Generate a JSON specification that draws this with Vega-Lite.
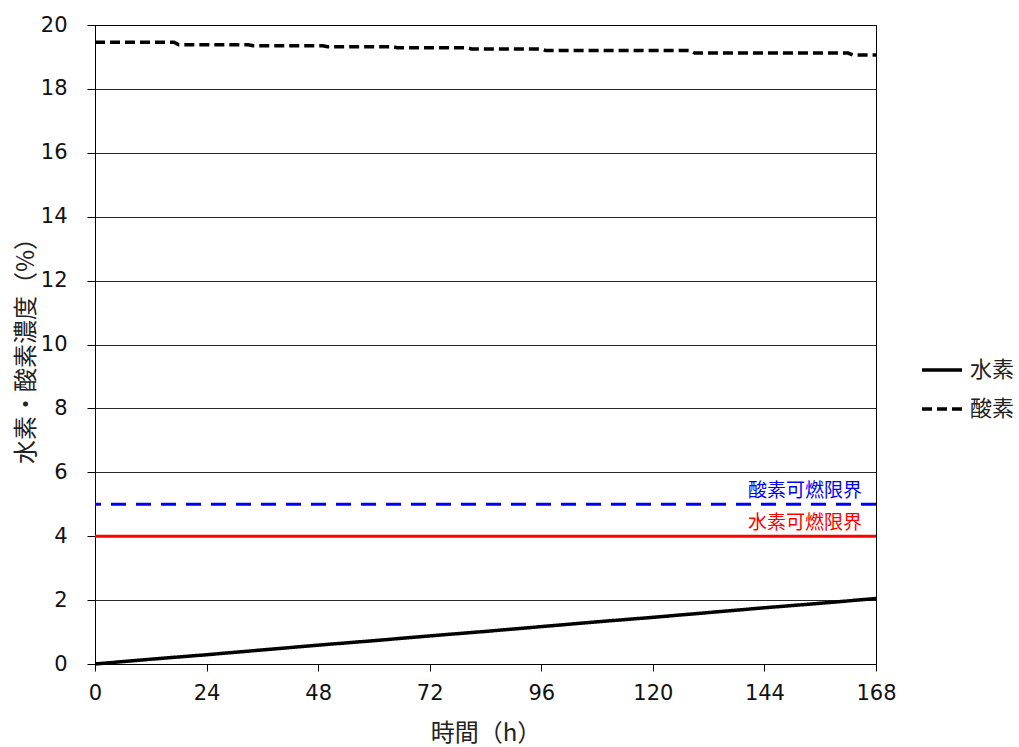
{
  "$schema": "https://vega.github.io/schema/vega-lite/v6.json",
  "width": 781,
  "height": 639,
  "autosize": {"type": "none"},
  "padding": {"left": 95, "top": 25, "right": 143, "bottom": 83},
  "background": "white",
  "config": {
    "view": {"stroke": "black", "strokeWidth": 1},
    "font": "DejaVu Sans"
  },
  "datasets": {
    "series": [
      {"h": 0, "v": 0, "s": "水素"},
      {"h": 12, "v": 0.15, "s": "水素"},
      {"h": 24, "v": 0.29, "s": "水素"},
      {"h": 36, "v": 0.44, "s": "水素"},
      {"h": 48, "v": 0.59, "s": "水素"},
      {"h": 60, "v": 0.73, "s": "水素"},
      {"h": 72, "v": 0.88, "s": "水素"},
      {"h": 84, "v": 1.02, "s": "水素"},
      {"h": 96, "v": 1.17, "s": "水素"},
      {"h": 108, "v": 1.32, "s": "水素"},
      {"h": 120, "v": 1.46, "s": "水素"},
      {"h": 132, "v": 1.61, "s": "水素"},
      {"h": 144, "v": 1.76, "s": "水素"},
      {"h": 156, "v": 1.9, "s": "水素"},
      {"h": 168, "v": 2.05, "s": "水素"},
      {"h": 0, "v": 19.46, "s": "酸素"},
      {"h": 17, "v": 19.46, "s": "酸素"},
      {"h": 18, "v": 19.38, "s": "酸素"},
      {"h": 33, "v": 19.38, "s": "酸素"},
      {"h": 34, "v": 19.35, "s": "酸素"},
      {"h": 49, "v": 19.35, "s": "酸素"},
      {"h": 50, "v": 19.32, "s": "酸素"},
      {"h": 64, "v": 19.32, "s": "酸素"},
      {"h": 65, "v": 19.29, "s": "酸素"},
      {"h": 80, "v": 19.29, "s": "酸素"},
      {"h": 81, "v": 19.25, "s": "酸素"},
      {"h": 96, "v": 19.25, "s": "酸素"},
      {"h": 97, "v": 19.2, "s": "酸素"},
      {"h": 128, "v": 19.2, "s": "酸素"},
      {"h": 129, "v": 19.12, "s": "酸素"},
      {"h": 162, "v": 19.12, "s": "酸素"},
      {"h": 163, "v": 19.06, "s": "酸素"},
      {"h": 168, "v": 19.06, "s": "酸素"}
    ],
    "limits": [
      {"name": "酸素可燃限界", "v": 5},
      {"name": "水素可燃限界", "v": 4}
    ]
  },
  "layer": [
    {
      "data": {"name": "series"},
      "mark": {"type": "line", "color": "black", "strokeWidth": 3.5},
      "encoding": {
        "x": {
          "field": "h", "type": "quantitative",
          "scale": {"domain": [0, 168], "nice": false, "zero": false},
          "axis": {
            "values": [0, 24, 48, 72, 96, 120, 144, 168],
            "grid": false,
            "title": "時間（h）",
            "titleFont": "Noto Sans CJK JP",
            "titleFontSize": 24,
            "titleFontWeight": "normal",
            "titleColor": "#222",
            "titlePadding": 18,
            "labelFont": "DejaVu Sans",
            "labelFontSize": 21,
            "labelColor": "#111",
            "labelPadding": 11,
            "tickSize": 7,
            "tickColor": "black",
            "domainColor": "black",
            "labelFlush": false
          }
        },
        "y": {
          "field": "v", "type": "quantitative",
          "scale": {"domain": [0, 20], "nice": false},
          "axis": {
            "values": [0, 2, 4, 6, 8, 10, 12, 14, 16, 18, 20],
            "grid": true,
            "gridColor": "black",
            "gridWidth": 1,
            "gridOpacity": 0.85,
            "title": "水素・酸素濃度（%）",
            "titleFont": "Noto Sans CJK JP",
            "titleFontSize": 24,
            "titleFontWeight": "normal",
            "titleColor": "#222",
            "titlePadding": 2,
            "labelFont": "DejaVu Sans",
            "labelFontSize": 21,
            "labelColor": "#111",
            "labelPadding": 20,
            "tickSize": 8,
            "tickColor": "black",
            "domainColor": "black"
          }
        },
        "strokeDash": {
          "field": "s", "type": "nominal",
          "scale": {"domain": ["水素", "酸素"], "range": [[1, 0], [10, 5]]},
          "legend": {
            "title": null,
            "orient": "none",
            "legendX": 825,
            "legendY": 323,
            "symbolType": "stroke",
            "symbolSize": 1600,
            "symbolStrokeWidth": 3.5,
            "symbolStrokeColor": "black",
            "labelFont": "Noto Sans CJK JP",
            "labelFontSize": 22,
            "labelColor": "#222",
            "labelOffset": 6,
            "rowPadding": 6
          }
        }
      }
    },
    {
      "data": {"name": "limits"},
      "mark": {"type": "rule", "strokeWidth": 3},
      "encoding": {
        "y": {"field": "v", "type": "quantitative"},
        "color": {
          "field": "name", "type": "nominal",
          "scale": {"domain": ["酸素可燃限界", "水素可燃限界"], "range": ["#0000ff", "#ff0000"]},
          "legend": null
        },
        "strokeDash": {
          "field": "name", "type": "nominal",
          "scale": {"domain": ["酸素可燃限界", "水素可燃限界"], "range": [[15, 10], [1, 0]]},
          "legend": null
        }
      }
    },
    {
      "data": {"name": "limits"},
      "mark": {"type": "text", "align": "right", "baseline": "bottom", "dx": -14, "dy": -3, "font": "Noto Sans CJK JP", "fontSize": 19},
      "encoding": {
        "x": {"datum": 168},
        "y": {"field": "v", "type": "quantitative"},
        "text": {"field": "name"},
        "color": {
          "field": "name", "type": "nominal",
          "scale": {"domain": ["酸素可燃限界", "水素可燃限界"], "range": ["#0000ff", "#ff0000"]},
          "legend": null
        }
      }
    }
  ],
  "resolve": {"scale": {"strokeDash": "independent"}}
}
